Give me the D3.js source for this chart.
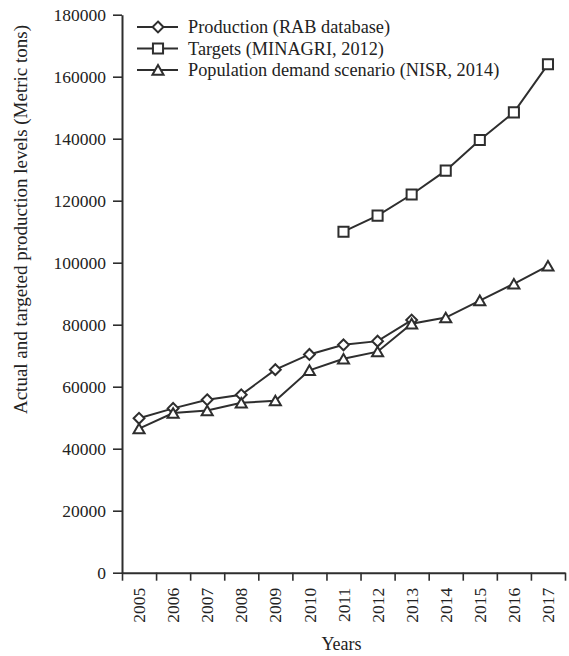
<!DOCTYPE html>
<html>
<head>
<meta charset="utf-8">
<script src="https://cdn.jsdelivr.net/npm/d3@7/dist/d3.min.js"></script>
<style>
  html, body { margin: 0; padding: 0; background: #fff; }
  svg { display: block; }
  svg text { font-family: "Liberation Serif", "Times New Roman", serif; }
</style>
</head>
<body>
<svg id="chart" width="569" height="656"></svg>
<script>
// Years on the horizontal axis
const years = ["2005","2006","2007","2008","2009","2010","2011","2012","2013","2014","2015","2016","2017"];

// Production (RAB database), 2005–2013
const productionYears = ["2005","2006","2007","2008","2009","2010","2011","2012","2013"];
const productionValues = [49800, 53000, 55800, 57400, 65500, 70400, 73500, 74700, 81500];

// Targets (MINAGRI, 2012), 2011–2017
const targetYears = ["2011","2012","2013","2014","2015","2016","2017"];
const targetValues = [110000, 115200, 122000, 129700, 139600, 148500, 164000];

// Population demand scenario (NISR, 2014), 2005–2017
const demandYears = years;
const demandValues = [46500, 51500, 52300, 54800, 55500, 65300, 69000, 71300, 80300, 82300, 87800, 93200, 99000];

// Y axis ticks
const yTicks = [0, 20000, 40000, 60000, 80000, 100000, 120000, 140000, 160000, 180000];

const seriesLabels = ["Production (RAB database)", "Targets (MINAGRI, 2012)", "Population demand scenario (NISR, 2014)"];

const ink = "#2e2e2e";
const textInk = "#222";
const svg = d3.select("#chart");

const plotLeft = 122, plotRight = 565, plotTop = 14.7, plotBottom = 572.7;

const x = d3.scaleBand().domain(years).range([plotLeft, plotRight]).padding(0);
const xEdge = d3.scaleLinear().domain([0, years.length]).range([plotLeft, plotRight]);
const y = d3.scaleLinear().domain([0, 180000]).range([plotBottom, plotTop]);

// Y axis
const yAxis = svg.append("g")
  .attr("transform", `translate(${plotLeft},0)`)
  .call(d3.axisLeft(y).tickValues(yTicks).tickFormat(d3.format("d")).tickSize(9).tickSizeOuter(0).tickPadding(7));

// X axis: ticks at category boundaries
const xAxis = svg.append("g")
  .attr("transform", `translate(0,${plotBottom})`)
  .call(d3.axisBottom(xEdge).tickValues(d3.range(years.length + 1)).tickFormat("").tickSize(8).tickSizeOuter(0));

[yAxis, xAxis].forEach(g => {
  g.attr("font-family", null).attr("font-size", null);
  g.select(".domain").attr("stroke", ink).attr("stroke-width", 2);
  g.selectAll(".tick line").attr("stroke", ink).attr("stroke-width", 1.6);
});
yAxis.selectAll(".tick text").attr("fill", textInk).style("font-size", "17.5px");

// Year labels, rotated, centred in each category
svg.append("g").selectAll("text").data(years).join("text")
  .attr("transform", d => `translate(${x(d) + x.bandwidth() / 2},${plotBottom + 15}) rotate(-90)`)
  .attr("text-anchor", "end")
  .attr("dy", "0.35em")
  .attr("fill", textInk)
  .style("font-size", "17.5px")
  .text(d => d);

// Axis titles
svg.append("text")
  .attr("x", (plotLeft + plotRight) / 2 - 2)
  .attr("y", 650)
  .attr("text-anchor", "middle")
  .attr("fill", textInk)
  .style("font-size", "18px")
  .text("Years");

svg.append("text")
  .attr("transform", "translate(27,25) rotate(-90)")
  .attr("text-anchor", "end")
  .attr("fill", textInk)
  .style("font-size", "19px")
  .text("Actual and targeted production levels (Metric tons)");

// Marker shapes
const shapes = [
  d3.symbol().type(d3.symbolDiamond2).size(75),
  d3.symbol().type(d3.symbolSquare2).size(130),
  d3.symbol().type(d3.symbolTriangle2).size(88)
];

const series = [
  { xs: productionYears, vs: productionValues },
  { xs: targetYears, vs: targetValues },
  { xs: demandYears, vs: demandValues }
];

const cx = d => x(d) + x.bandwidth() / 2;
const line = d3.line().x(d => cx(d[0])).y(d => y(d[1]));

series.forEach((s, i) => {
  const pts = s.xs.map((yr, k) => [yr, s.vs[k]]);
  svg.append("path")
    .attr("d", line(pts))
    .attr("fill", "none")
    .attr("stroke", ink)
    .attr("stroke-width", 2);
  svg.append("g").selectAll("path").data(pts).join("path")
    .attr("transform", d => `translate(${cx(d[0])},${y(d[1]) + (i === 2 ? 1.5 : 0)})`)
    .attr("d", shapes[i]())
    .attr("fill", "#fff")
    .attr("stroke", ink)
    .attr("stroke-width", 2);
});

// Legend
const legend = svg.append("g");
const rowY = [27, 48.5, 70];
seriesLabels.forEach((lab, i) => {
  const g = legend.append("g").attr("transform", `translate(0,${rowY[i]})`);
  g.append("line").attr("x1", 137).attr("x2", 178).attr("y1", 0).attr("y2", 0)
    .attr("stroke", ink).attr("stroke-width", 2);
  g.append("path").attr("transform", `translate(158,${i === 2 ? 1.5 : 0})`)
    .attr("d", shapes[i]())
    .attr("fill", "#fff").attr("stroke", ink).attr("stroke-width", 2);
  g.append("text").attr("x", 188).attr("y", 0).attr("dy", "0.33em")
    .attr("fill", textInk).style("font-size", "18.3px").text(lab);
});
</script>
</body>
</html>
